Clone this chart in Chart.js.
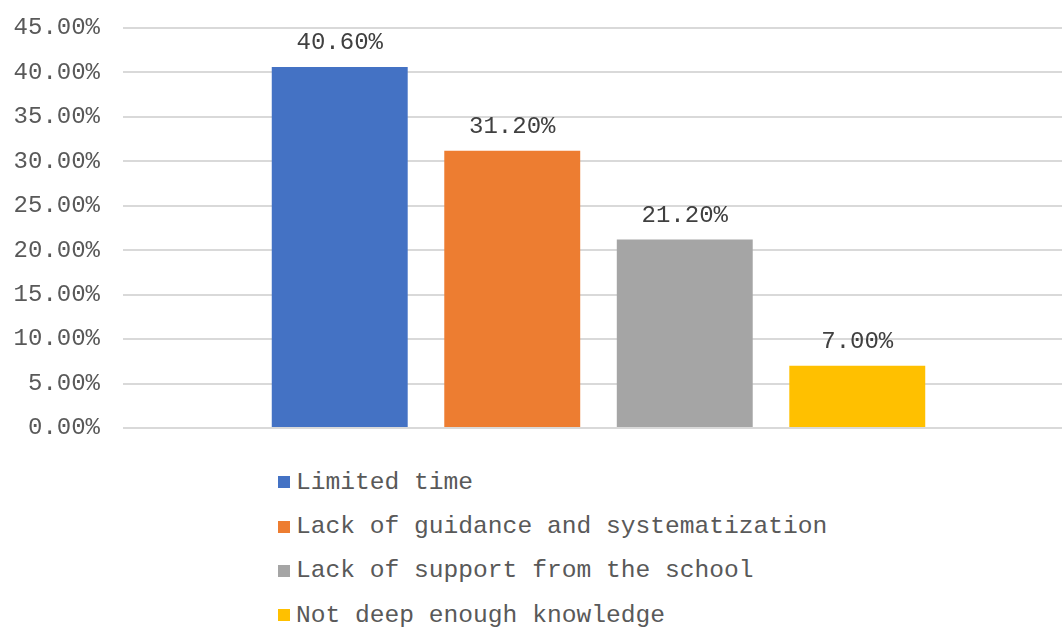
<!DOCTYPE html>
<html>
<head>
<meta charset="utf-8">
<script src="https://cdn.jsdelivr.net/npm/chart.js@4/dist/chart.umd.min.js"></script>
<style>
  html, body{
    margin:0;
    padding:0;
    background:#ffffff;
    overflow:hidden;
  }
  #wrap{
    position:relative;
    width:1080px;
    height:628px;
  }
  #chartBox{
    position:absolute;
    left:0;
    top:0;
    width:1080px;
    height:440px;
  }
  #legend{
    position:absolute;
    left:278px;
    top:460px;
    margin:0;
    padding:0;
    list-style:none;
    font-family:"Liberation Mono", monospace;
    font-size:24.6px;
    color:#595959;
  }
  #legend li{
    display:flex;
    align-items:center;
    height:44.4px;
    white-space:nowrap;
  }
  #legend .box{
    display:inline-block;
    width:12px;
    height:12px;
    margin-right:6px;
  }
</style>
</head>
<body>
<div id="wrap">
  <div id="chartBox"><canvas id="barChart"></canvas></div>
  <ul id="legend"></ul>
</div>

<script>

/* DATA */

const categories = [
  "Limited time",
  "Lack of guidance and systematization",
  "Lack of support from the school",
  "Not deep enough knowledge"
];

const values = [40.6, 31.2, 21.2, 7.0];

const yTicks = [0, 5, 10, 15, 20, 25, 30, 35, 40, 45];

const palette = ["#4472C4", "#ED7D31", "#A5A5A5", "#FFC000"];

const FONT = "'Liberation Mono', monospace";

function pct(v){
  return v.toFixed(2) + "%";
}

/* VALUE LABELS ABOVE BARS */

const valueLabels = {
  id:"valueLabels",
  afterDatasetsDraw(chart){
    const ctx = chart.ctx;
    ctx.save();
    ctx.font = "24px " + FONT;
    ctx.fillStyle = "#404040";
    ctx.textAlign = "center";
    ctx.textBaseline = "bottom";
    chart.data.datasets.forEach((ds, i) => {
      const bar = chart.getDatasetMeta(i).data[0];
      ctx.fillText(pct(ds.data[0]), bar.x, bar.y - 12);
    });
    ctx.restore();
  }
};

/* HTML LEGEND */

const htmlLegend = {
  id:"htmlLegend",
  afterUpdate(chart){
    const list = document.getElementById("legend");
    list.innerHTML = "";
    chart.data.datasets.forEach(ds => {
      const li = document.createElement("li");
      const box = document.createElement("span");
      box.className = "box";
      box.style.background = ds.backgroundColor;
      li.appendChild(box);
      li.appendChild(document.createTextNode(ds.label));
      list.appendChild(li);
    });
  }
};

/* CHART */

const ctx =
document.getElementById(
  "barChart"
);

const barChart =
new Chart(ctx,{

  type:"bar",

  data:{
    labels:[""],
    datasets: categories.map((name, i) => ({
      label:name,
      data:[values[i]],
      backgroundColor:palette[i],
      borderWidth:0
    }))
  },

  options:{
    responsive:true,
    maintainAspectRatio:false,
    animation:false,
    categoryPercentage:0.7256,
    barPercentage:0.788,
    layout:{
      padding:{ left:13, right:6, top:28, bottom:12 }
    },
    plugins:{
      legend:{ display:false },
      tooltip:{ enabled:false }
    },
    scales:{
      x:{
        grid:{ display:false },
        border:{ display:false },
        ticks:{ display:false },
        afterFit(axis){
          axis.height = 0;
          axis.paddingLeft = 0;
          axis.paddingRight = 0;
        }
      },
      y:{
        min:0,
        max:45,
        afterBuildTicks(axis){
          axis.ticks = yTicks.map(v => ({ value:v }));
        },
        afterFit(axis){
          axis.width = 110;
          axis.paddingTop = 0;
          axis.paddingBottom = 0;
        },
        grid:{
          color:"#d9d9d9",
          lineWidth:2,
          drawTicks:false
        },
        border:{ display:false },
        ticks:{
          padding:23,
          color:"#595959",
          font:{ family:FONT, size:24 },
          callback:(v) => pct(v)
        }
      }
    }
  },

  plugins:[valueLabels, htmlLegend]

});

</script>
</body>
</html>
